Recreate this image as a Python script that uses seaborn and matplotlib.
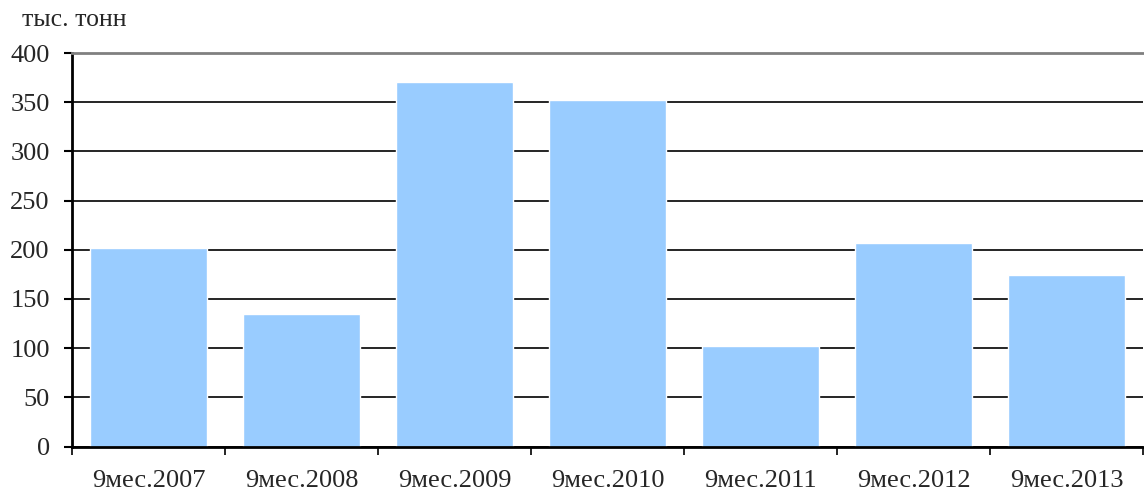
import numpy as np
import matplotlib.pyplot as plt
import seaborn as sns

# Data
periods = ["9мес.2007", "9мес.2008", "9мес.2009", "9мес.2010",
           "9мес.2011", "9мес.2012", "9мес.2013"]
values = [202, 135, 371, 352, 102, 207, 174]
y_ticks = [0, 50, 100, 150, 200, 250, 300, 350, 400]

sns.set_style("white")
plt.rcParams['font.family'] = ['Liberation Serif', 'DejaVu Serif']

fig = plt.figure(figsize=(11.44, 4.92), dpi=100)
ax = fig.add_axes([72 / 1144, 45.5 / 492, 1071 / 1144, 393.5 / 492])

# Bar plot
sns.barplot(x=periods, y=values, color="#99CCFF", width=0.77,
            saturation=1, ax=ax, zorder=2)

ax.set_ylim(0, 400)
ax.set_xlim(-0.5, len(periods) - 0.5)
ax.set_yticks(y_ticks)
ax.set_yticklabels([str(v) for v in y_ticks], fontsize=19)
ax.tick_params(axis='y', length=6, width=1.5, color='black', pad=10, direction='out', left=True)
ax.tick_params(axis='x', which='major', length=0, pad=17, labelsize=19)
# tick marks between categories
ax.set_xticks(np.arange(len(periods) + 1) - 0.5, minor=True)
ax.tick_params(axis='x', which='minor', length=6, width=1.2, color='black', direction='out', bottom=True)

# Grid lines
ax.yaxis.grid(True, color='black', linewidth=1.2, zorder=0)
ax.set_axisbelow(True)
ax.yaxis.get_gridlines()[-1].set_visible(False)

for side in ['left', 'bottom']:
    ax.spines[side].set_color('black')
    ax.spines[side].set_linewidth(2)
ax.spines['top'].set_color('#808080')
ax.spines['top'].set_linewidth(2)
ax.spines['right'].set_visible(False)

ax.set_xlabel("")
ax.set_ylabel("")

fig.text(22 / 1144, 1 - 20 / 492, "тыс. тонн", fontsize=18.5, va='center', ha='left')

fig.savefig("out.png", dpi=100)
